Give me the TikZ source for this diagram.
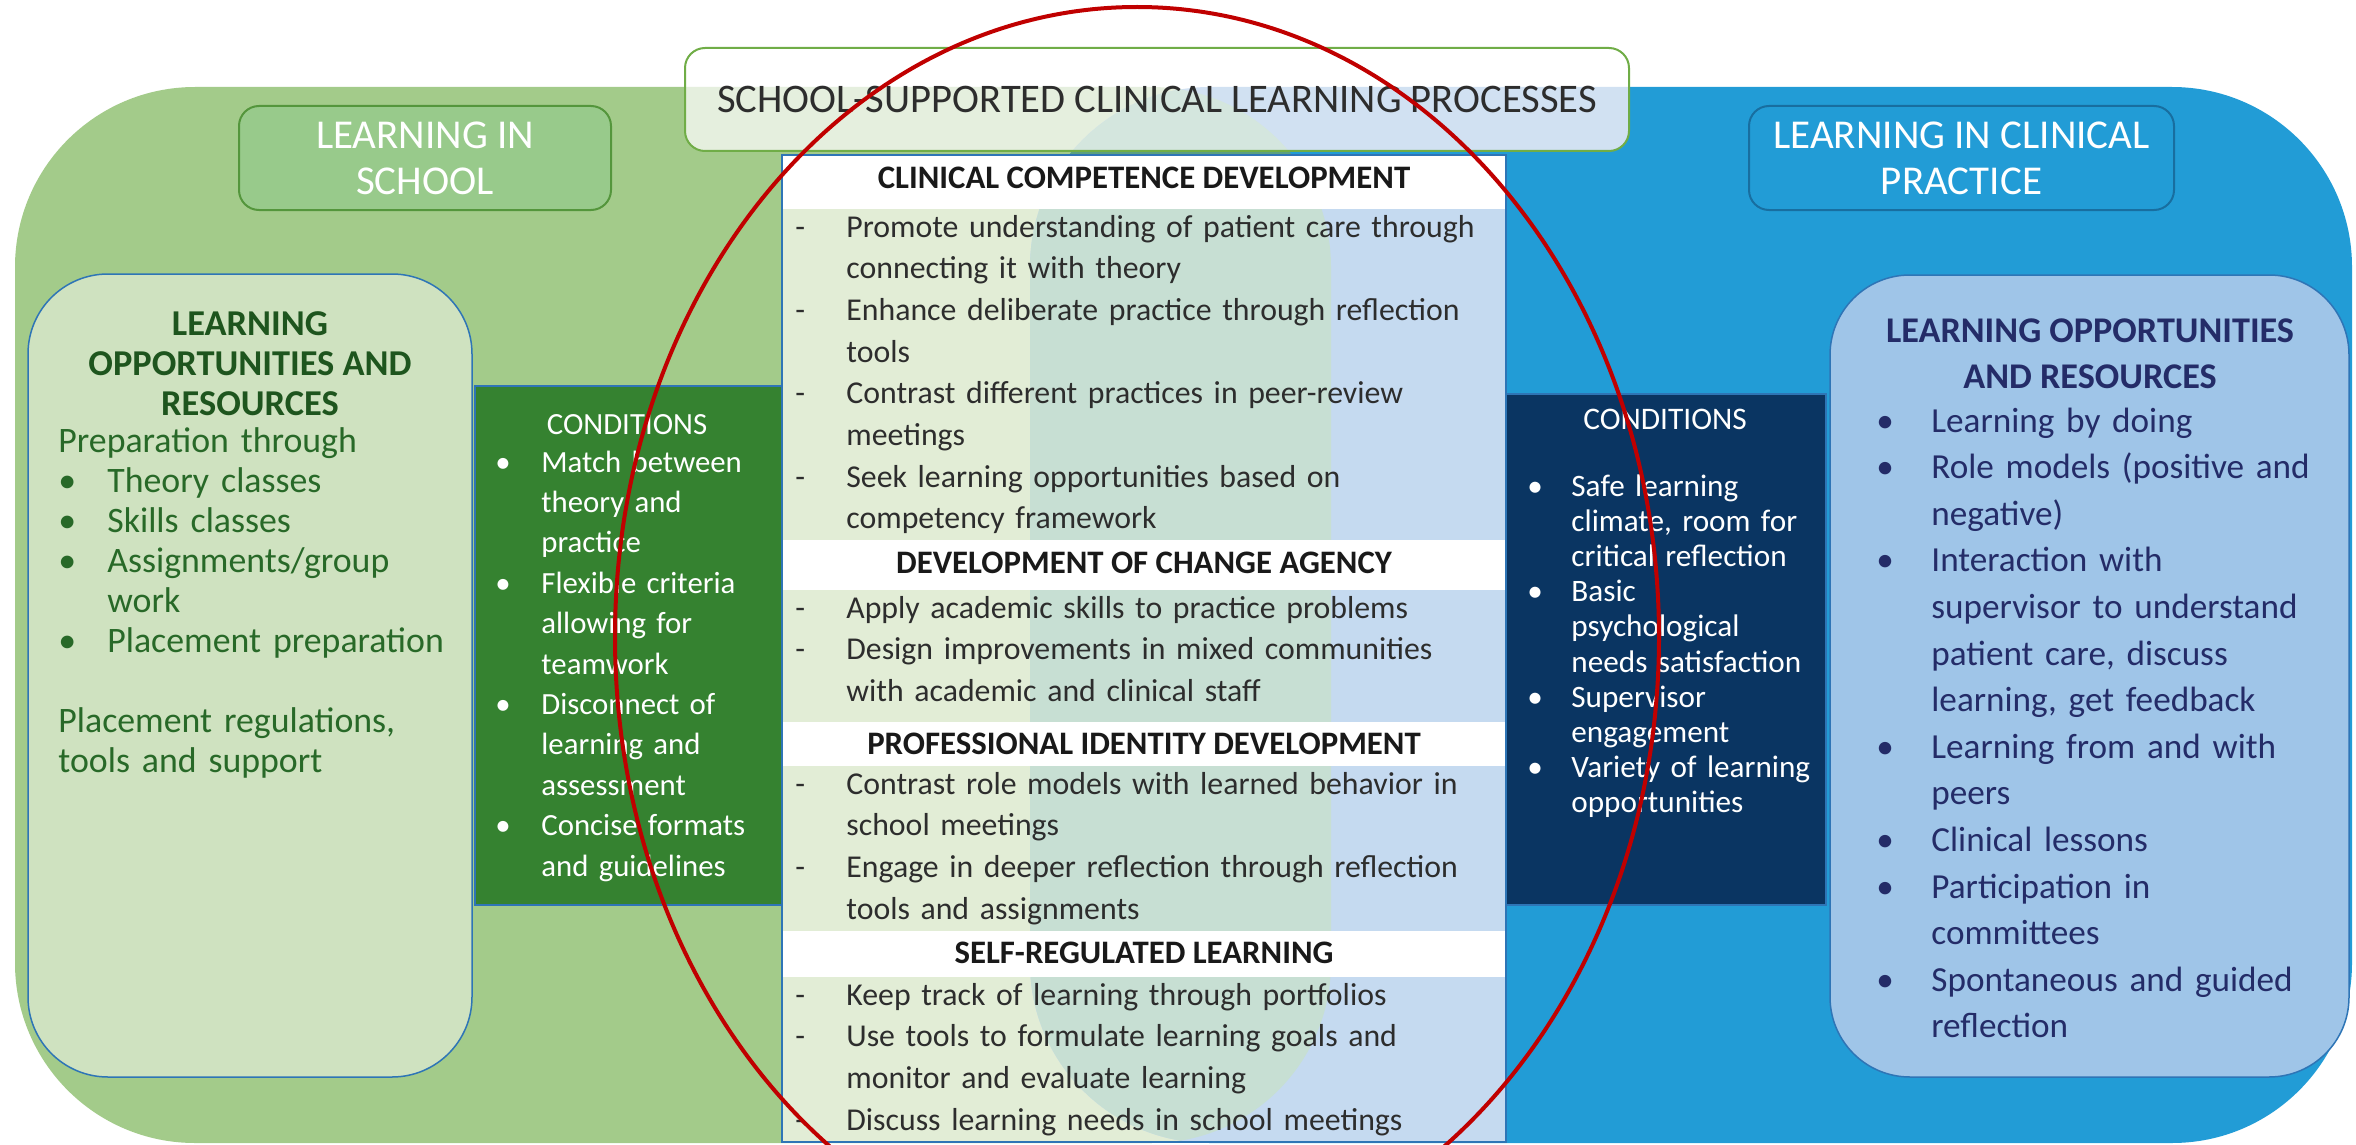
\documentclass[tikz,border=0pt]{standalone}
\usepackage{fontspec}
\setmainfont{Carlito}

\definecolor{schoolgreen}{RGB}{163,203,138}
\definecolor{clinicblue}{RGB}{34,156,214}
\definecolor{overlapteal}{RGB}{91,160,126}
\definecolor{colgreen}{RGB}{226,237,214}
\definecolor{colblue}{RGB}{197,218,240}
\definecolor{colteal}{RGB}{199,223,211}
\definecolor{titlegreen}{RGB}{229,239,222}
\definecolor{titleblue}{RGB}{209,225,242}
\definecolor{titleteal}{RGB}{212,230,222}
\definecolor{titleedge}{RGB}{112,173,71}
\definecolor{lightgreen}{RGB}{207,226,192}
\definecolor{lightblue}{RGB}{159,197,232}
\definecolor{condgreen}{RGB}{53,130,48}
\definecolor{condnavy}{RGB}{10,53,98}
\definecolor{edgeblue}{RGB}{46,117,182}
\definecolor{labelgreen}{RGB}{152,202,139}
\definecolor{labelgreenedge}{RGB}{84,150,60}
\definecolor{labelblueedge}{RGB}{24,110,160}
\definecolor{greenhead}{RGB}{30,85,30}
\definecolor{greentext}{RGB}{40,105,40}
\definecolor{navytext}{RGB}{36,44,104}
\definecolor{graytext}{RGB}{45,45,45}
\definecolor{ringred}{RGB}{192,0,0}

% one list item: marker, indent, lines
\newcommand{\bitem}[3][\textbullet]{\hangindent=#2\hangafter=1\makebox[#2][l]{#1}{\let\\\newline#3}\par}
% the two places of learning and their overlap
\newcommand{\twoplaces}[3]{%
  \fill[#1, rounded corners=90pt] (15,87) rectangle (1331,1143);
  \fill[#2, rounded corners=90pt] (1030,87) rectangle (2352,1143);
  \begin{scope}
  \clip[rounded corners=90pt] (15,87) rectangle (1331,1143);
  \fill[#3, rounded corners=90pt] (1030,87) rectangle (2352,1143);
  \end{scope}}

\begin{document}
\begin{tikzpicture}[x=0.5pt,y=-0.5pt,
  every node/.style={inner sep=0pt},
  panel/.style={draw=edgeblue, line width=0.75pt},
  placelabel/.style={line width=1pt, rounded corners=10pt, minimum width=#1, minimum height=52pt,
    align=center, text=white, font=\fontsize{20.5}{23}\selectfont},
  listtext/.style={anchor=base west, align=left, text width=#1},
  colhead/.style={font=\fontsize{16.4}{18}\selectfont\bfseries, text=black!90},
  colbody/.style={listtext=350pt, font=\fontsize{15.9}{20.85}\selectfont, text=graytext}]
\useasboundingbox (0,0) rectangle (2356,1145);

\twoplaces{schoolgreen}{clinicblue}{overlapteal}

\node[placelabel=186pt, draw=labelgreenedge, fill=labelgreen] (school) at (425,158) {LEARNING IN\\SCHOOL};
\node[placelabel=212.5pt, draw=labelblueedge, fill=clinicblue] (clinic) at (1961.5,158) {LEARNING IN CLINICAL\\PRACTICE};

\draw[panel, fill=lightgreen, rounded corners=40pt] (28,274) rectangle (472,1077);
\draw[panel, fill=lightblue, rounded corners=40pt] (1830,275) rectangle (2349,1077);
\draw[panel, fill=condgreen] (475,386) rectangle (782,905);
\draw[panel, fill=condnavy] (1506,394) rectangle (1826,905);

% middle column
\begin{scope}
\clip (782,155) rectangle (1506,1142);
\twoplaces{colgreen}{colblue}{colteal}
\fill[white] (782,155) rectangle (1506,209);
\fill[white] (782,540) rectangle (1506,590);
\fill[white] (782,722) rectangle (1506,766);
\fill[white] (782,931) rectangle (1506,977);
\end{scope}
\draw[edgeblue, line width=0.75pt] (782,155) rectangle (1506,1142);

\begin{scope}
\clip[rounded corners=10pt] (685,48) rectangle (1629,151);
\fill[white] (685,48) rectangle (1629,151);
\twoplaces{titlegreen}{titleblue}{titleteal}
\end{scope}
\node[draw=titleedge, line width=1pt, rounded corners=10pt, minimum width=472pt, minimum height=51.5pt,
  font=\fontsize{20.3}{22}\selectfont, text=graytext]
  (title) at (1157,99.5) {SCHOOL-SUPPORTED CLINICAL LEARNING PROCESSES};

\node[colhead] (cchead) at (1144,178) {CLINICAL COMPETENCE DEVELOPMENT};
\node[colbody] (cclist) at (795,237) {%
\bitem[-]{25.5pt}{Promote understanding of patient care through\\connecting it with theory}
\bitem[-]{25.5pt}{Enhance deliberate practice through reflection\\tools}
\bitem[-]{25.5pt}{Contrast different practices in peer-review\\meetings}
\bitem[-]{25.5pt}{Seek learning opportunities based on\\competency framework}};
\node[colhead] (cahead) at (1144,563) {DEVELOPMENT OF CHANGE AGENCY};
\node[colbody] (calist) at (795,618) {%
\bitem[-]{25.5pt}{Apply academic skills to practice problems}
\bitem[-]{25.5pt}{Design improvements in mixed communities\\with academic and clinical staff}};
\node[colhead] (pihead) at (1144,744) {PROFESSIONAL IDENTITY DEVELOPMENT};
\node[colbody] (pilist) at (795,794) {%
\bitem[-]{25.5pt}{Contrast role models with learned behavior in\\school meetings}
\bitem[-]{25.5pt}{Engage in deeper reflection through reflection\\tools and assignments}};
\node[colhead] (srhead) at (1144,953) {SELF-REGULATED LEARNING};
\node[colbody] (srlist) at (795,1005) {%
\bitem[-]{25.5pt}{Keep track of learning through portfolios}
\bitem[-]{25.5pt}{Use tools to formulate learning goals and\\monitor and evaluate learning}
\bitem[-]{25.5pt}{Discuss learning needs in school meetings}};

% school side
\node[align=center, text=greenhead, font=\fontsize{18.2}{20}\selectfont\bfseries]
  (schoolres) at (250,364) {LEARNING\\OPPORTUNITIES AND\\RESOURCES};
\node[listtext=205pt, text=greentext, font=\fontsize{17.9}{20}\selectfont] (schoolreslist) at (58,452) {%
Preparation through\par
\bitem{24.5pt}{Theory classes}
\bitem{24.5pt}{Skills classes}
\bitem{24.5pt}{Assignments/group\\work}
\bitem{24.5pt}{Placement preparation}
\vspace{20pt}
Placement regulations,\\tools and support};
\node[text=white, font=\fontsize{15.4}{17}\selectfont] (schoolcond) at (627,425) {CONDITIONS};
\node[listtext=142pt, text=white, font=\fontsize{15.4}{20.2}\selectfont] (schoolcondlist) at (495,472) {%
\bitem{23pt}{Match between\\theory and\\practice}
\bitem{23pt}{Flexible criteria\\allowing for\\teamwork}
\bitem{23pt}{Disconnect of\\learning and\\assessment}
\bitem{23pt}{Concise formats\\and guidelines}};

% clinical side
\node[text=white, font=\fontsize{15.7}{17}\selectfont] (cliniccond) at (1665,419) {CONDITIONS};
\node[listtext=148pt, text=white, font=\fontsize{15.6}{17.6}\selectfont] (cliniccondlist) at (1527,496) {%
\bitem{22pt}{Safe learning\\climate, room for\\critical reflection}
\bitem{22pt}{Basic\\psychological\\needs satisfaction}
\bitem{22pt}{Supervisor\\engagement}
\bitem{22pt}{Variety of learning\\opportunities}};
\node[align=center, text=navytext, font=\fontsize{18.1}{23.15}\selectfont\bfseries]
  (clinicres) at (2090,354) {LEARNING OPPORTUNITIES\\AND RESOURCES};
\node[listtext=236pt, text=navytext, font=\fontsize{17.6}{23.3}\selectfont] (clinicreslist) at (1876,432) {%
\bitem{27.5pt}{Learning by doing}
\bitem{27.5pt}{Role models (positive and\\negative)}
\bitem{27.5pt}{Interaction with\\supervisor to understand\\patient care, discuss\\learning, get feedback}
\bitem{27.5pt}{Learning from and with\\peers}
\bitem{27.5pt}{Clinical lessons}
\bitem{27.5pt}{Participation in\\committees}
\bitem{27.5pt}{Spontaneous and guided\\reflection}};

\draw[ringred, line width=2pt] (1137,637) ellipse [x radius=261pt, y radius=315pt];
\end{tikzpicture}
\end{document}
